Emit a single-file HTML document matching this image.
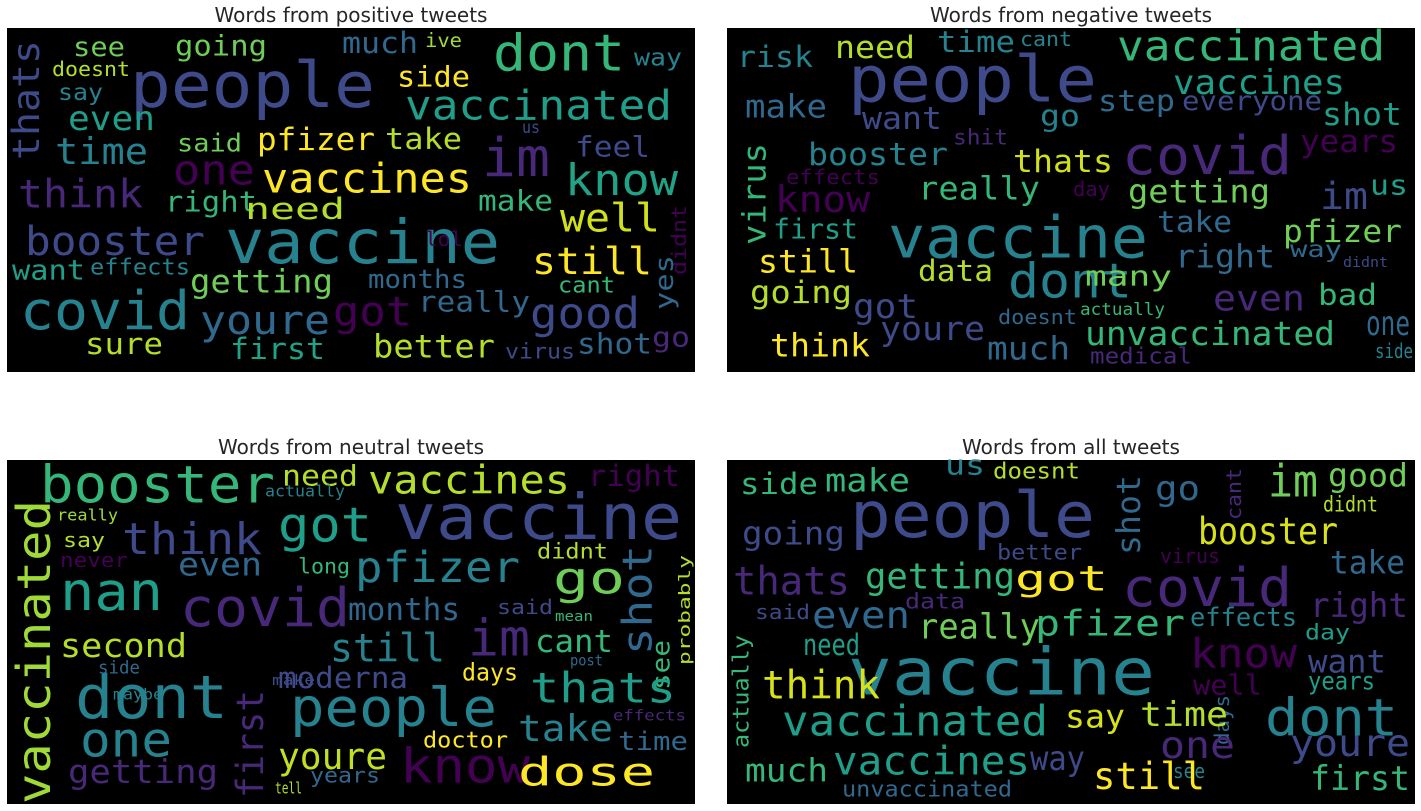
<!DOCTYPE html>
<html><head><meta charset="utf-8"><style>
body{margin:0;background:#fff;width:1421px;height:811px;overflow:hidden}
svg{display:block}
.t{font-family:"DejaVu Sans","Liberation Sans",sans-serif;font-size:20px;fill:#262626}
.w{font-family:"DejaVu Sans Mono","Liberation Mono",monospace}
</style></head><body>
<svg id="fig" width="1421" height="811">
<rect x="7" y="28" width="688" height="344" fill="#000"/>
<rect x="727" y="28" width="688" height="344" fill="#000"/>
<rect x="7" y="460" width="688" height="344" fill="#000"/>
<rect x="727" y="460" width="688" height="344" fill="#000"/>
<text class="t" x="351" y="22" text-anchor="middle">Words from positive tweets</text>
<text class="t" x="1071" y="22" text-anchor="middle">Words from negative tweets</text>
<text class="t" x="351" y="454" text-anchor="middle">Words from neutral tweets</text>
<text class="t" x="1071" y="454" text-anchor="middle">Words from all tweets</text>
</svg>
<script>
const positiveWords=[
["people",130,375,88,68,"#3e4a89"],["dont",493,625,55,55,"#35b779"],["vaccinated",405,672,107,44,"#1f9e89"],
["vaccine",225,500,245,65,"#26828e"],["covid",20,190,313,57,"#26828e"],["im",482,550,160,57,"#482878"],
["know",565,678,182,47,"#20a386"],["vaccines",262,472,180,44,"#fde725"],["booster",25,205,243,43,"#3e4a89"],
["think",18,143,196,42,"#482878"],["thats",28,40,160,40,"#3e4a89",1],["time",55,148,153,39,"#26828e"],
["one",173,255,172,45,"#440154"],["even",68,155,120,36,"#1f9e89"],["see",73,125,48,29,"#6ece58"],
["say",58,103,93,25,"#26828e"],["doesnt",52,130,70,22,"#b5de2b"],["going",175,267,47,31,"#6ece58"],
["much",342,418,44,32,"#31688e"],["ive",425,462,41,21,"#a0da39"],["way",634,682,58,26,"#26828e"],
["side",397,470,78,31,"#fde725"],["pfizer",257,375,141,33,"#fde725"],["take",385,462,140,32,"#b5de2b"],
["said",177,242,144,27,"#6ece58"],["us",522,540,128,18,"#3e4a89"],["feel",575,650,148,31,"#3e4a89"],
["right",165,257,203,31,"#35b779"],["need",245,345,210,32,"#b5de2b"],["make",478,553,202,31,"#35b779"],
["well",560,660,220,42,"#d0e11c"],["didnt",680,205,275,22,"#440154",1],["lol",425,463,240,22,"#440154"],
["want",12,85,271,30,"#1f9e89"],["effects",90,190,268,24,"#26828e"],["getting",190,333,283,34,"#6ece58"],
["months",368,467,280,28,"#31688e"],["still",532,652,263,40,"#fde725"],["yes",665,255,310,28,"#31688e",1],
["cant",558,615,286,24,"#35b779"],["youre",200,330,322,43,"#31688e"],["got",333,412,313,44,"#440154"],
["really",418,530,303,31,"#31688e"],["good",530,640,315,46,"#3e4a89"],["go",652,690,338,30,"#482878"],
["sure",85,163,345,32,"#b5de2b"],["first",230,325,350,32,"#20a386"],["better",373,495,348,34,"#b5de2b"],
["virus",505,575,352,23,"#3e4a89"],["shot",577,652,345,31,"#31688e"]];
const negativeWords=[
["people",848,1097,82,69,"#3e4a89"],["vaccinated",1117,1385,48,45,"#35b779"],["vaccines",1173,1345,84,36,"#1f9e89"],
["covid",1122,1292,158,57,"#482878"],["vaccine",888,1148,240,62,"#26828e"],["dont",1008,1132,283,52,"#26828e"],
["risk",737,813,58,32,"#26828e"],["need",835,915,49,33,"#b5de2b"],["time",937,1015,43,32,"#26828e"],
["cant",1020,1072,40,22,"#26828e"],["make",745,827,108,34,"#31688e"],["want",862,942,120,33,"#3e4a89"],
["go",1040,1080,117,32,"#26828e"],["step",1098,1175,102,32,"#31688e"],["everyone",1182,1322,102,29,"#3e4a89"],
["shot",1322,1402,116,33,"#1f9e89"],["years",1300,1398,143,33,"#440154"],["shit",953,1008,138,23,"#482878"],
["booster",808,948,156,33,"#26828e"],["thats",1013,1113,163,33,"#d0e11c"],["effects",786,880,178,22,"#440154"],
["virus",756,143,245,34,"#35b779",1],["know",775,870,201,39,"#440154"],["really",918,1040,190,34,"#35b779"],
["day",1073,1110,190,22,"#440154"],["getting",1128,1270,193,34,"#6ece58"],["im",1320,1368,198,40,"#3e4a89"],
["us",1370,1408,186,30,"#1f9e89"],["first",773,858,230,30,"#1f9e89"],["take",1157,1232,223,32,"#31688e"],
["pfizer",1283,1402,233,33,"#6ece58"],["right",1175,1275,258,34,"#31688e"],["way",1290,1342,250,25,"#31688e"],
["didnt",1343,1388,263,15,"#3e4a89"],["still",758,858,263,34,"#fde725"],["data",918,993,272,32,"#b5de2b"],
["many",1085,1172,277,30,"#6ece58"],["going",750,852,294,33,"#b5de2b"],["got",853,918,308,36,"#3e4a89"],
["even",1213,1305,300,38,"#482878"],["bad",1318,1377,296,32,"#35b779"],["doesnt",998,1077,318,22,"#31688e"],
["actually",1080,1165,310,18,"#35b779"],["youre",880,985,330,35,"#3e4a89"],["unvaccinated",1085,1335,335,35,"#35b779"],
["one",1366,1410,325,36,"#31688e"],["think",770,870,347,34,"#fde725"],["much",987,1070,350,34,"#31688e"],
["medical",1090,1192,357,24,"#482878"],["side",1375,1413,352,22,"#26828e"]];
const neutralWords=[
["booster",40,275,487,56,"#35b779"],["vaccine",395,682,520,68,"#3e4a89"],["vaccinated",36,500,804,50,"#a0da39",1],
["nan",60,163,594,57,"#1f9e89"],["dont",75,228,700,64,"#26828e"],["one",80,172,742,52,"#26828e"],
["covid",180,350,610,57,"#482878"],["people",290,497,710,57,"#26828e"],["know",400,530,768,52,"#440154"],
["got",278,372,527,52,"#1f9e89"],["think",122,262,541,47,"#3e4a89"],["need",282,358,477,31,"#b5de2b"],
["vaccines",368,570,482,42,"#b5de2b"],["right",588,680,477,32,"#440154"],["actually",265,345,492,17,"#26828e"],
["really",57,118,516,17,"#a0da39"],["say",63,105,541,22,"#b5de2b"],["never",60,128,561,22,"#440154"],
["even",178,262,566,34,"#31688e"],["long",298,350,567,23,"#35b779"],["pfizer",355,520,569,46,"#26828e"],
["didnt",537,608,552,23,"#b5de2b"],["go",553,625,580,48,"#6ece58"],["shot",639,545,655,44,"#31688e",1],
["see",662,640,690,27,"#35b779",1],["probably",685,555,665,17,"#b5de2b",1],["second",60,187,647,35,"#b5de2b"],
["months",348,460,611,33,"#31688e"],["said",497,553,608,22,"#3e4a89"],["mean",555,593,617,15,"#35b779"],
["still",330,445,650,42,"#26828e"],["im",468,530,640,55,"#482878"],["cant",535,613,643,33,"#35b779"],
["side",98,140,668,19,"#31688e"],["maybe",113,163,695,16,"#26828e"],["make",272,315,681,15,"#3e4a89"],
["moderna",278,408,679,32,"#3e4a89"],["post",570,603,661,16,"#31688e"],["days",462,518,673,26,"#fde725"],
["thats",530,676,690,45,"#1f9e89"],["first",252,690,798,40,"#482878",1],["take",518,613,730,39,"#26828e"],
["effects",613,686,716,16,"#482878"],["getting",68,218,773,35,"#482878"],["youre",278,387,758,39,"#c2df23"],
["doctor",423,508,741,24,"#fde725"],["time",618,688,742,28,"#31688e"],["years",310,380,776,23,"#31688e"],
["dose",518,655,774,42,"#fde725"],["tell",275,302,789,17,"#b5de2b"]];
const allWords=[
["people",850,1095,518,68,"#3e4a89"],["covid",1122,1292,590,57,"#482878"],["vaccine",848,1155,675,70,"#26828e"],
["dont",1265,1398,720,56,"#26828e"],["side",740,818,485,32,"#35b779"],["make",825,910,482,34,"#35b779"],
["us",945,985,466,30,"#26828e"],["doesnt",993,1080,472,24,"#b5de2b"],["cant",1235,468,520,22,"#482878",1],
["im",1268,1318,483,48,"#6ece58"],["good",1328,1408,477,34,"#6ece58"],["didnt",1323,1378,505,23,"#b5de2b"],
["shot",1130,475,555,35,"#31688e",1],["go",1155,1200,490,36,"#31688e"],["going",742,845,535,34,"#3e4a89"],
["booster",1198,1338,533,40,"#d8e219"],["better",997,1082,553,23,"#3e4a89"],["virus",1160,1220,557,22,"#440154"],
["take",1330,1405,564,34,"#31688e"],["thats",733,850,583,42,"#482878"],["getting",865,1015,578,38,"#35b779"],
["got",1015,1108,580,37,"#fde725"],["said",755,810,613,22,"#3e4a89"],["even",812,910,617,40,"#31688e"],
["data",905,965,602,23,"#482878"],["right",1310,1408,607,36,"#482878"],["effects",1190,1297,618,28,"#26828e"],
["really",918,1040,628,37,"#6ece58"],["pfizer",1035,1185,625,38,"#35b779"],["day",1305,1350,633,23,"#1f9e89"],
["need",803,860,646,32,"#1f9e89"],["know",1190,1297,655,44,"#440154"],["want",1308,1386,663,34,"#3e4a89"],
["actually",742,635,748,24,"#35b779",1],["think",762,880,687,42,"#d8e219"],["well",1193,1262,686,30,"#440154"],
["years",1308,1375,682,27,"#1f9e89"],["days",1223,695,745,22,"#31688e",1],["vaccinated",782,1048,723,45,"#1f9e89"],
["say",1065,1125,718,34,"#d8e219"],["time",1140,1228,716,36,"#b5de2b"],["one",1160,1235,747,40,"#482878"],
["much",745,828,772,34,"#35b779"],["vaccines",833,1030,763,42,"#1f9e89"],["way",1030,1085,760,36,"#3e4a89"],
["youre",1290,1410,745,40,"#3e4a89"],["see",1173,1205,772,22,"#26828e"],["still",1093,1205,778,40,"#fde725"],
["first",1310,1410,780,36,"#35b779"],["unvaccinated",842,1012,790,24,"#31688e"]];

const NS="http://www.w3.org/2000/svg";
const fig=document.getElementById('fig');
const K=0.93;
function draw(list,panel){
  const g=document.createElementNS(NS,'g');
  
  
  fig.appendChild(g);
  list.forEach(w=>{
    const t=document.createElementNS(NS,'text');
    const fs=w[4]*K;
    t.setAttribute('class','w');
    t.setAttribute('font-size',fs);
    t.setAttribute('fill',w[5]);
    t.setAttribute('text-anchor','middle');
    t.setAttribute('lengthAdjust','spacingAndGlyphs');
    t.textContent=w[0];
    if(w[6]){
      const cx=w[1],cy=(w[2]+w[3])/2,len=w[3]-w[2];
      t.setAttribute('textLength',len);
      t.setAttribute('x',0);t.setAttribute('y',0.3*fs);
      t.setAttribute('transform','translate('+cx+','+cy+') rotate(-90)');
    }else{
      t.setAttribute('textLength',w[2]-w[1]);
      t.setAttribute('x',(w[1]+w[2])/2);
      t.setAttribute('y',w[3]+0.3*fs);
    }
    
    
    g.appendChild(t);
  });
}
draw(positiveWords,'positive');
draw(negativeWords,'negative');
draw(neutralWords,'neutral');
draw(allWords,'all');
</script>
</body></html>
